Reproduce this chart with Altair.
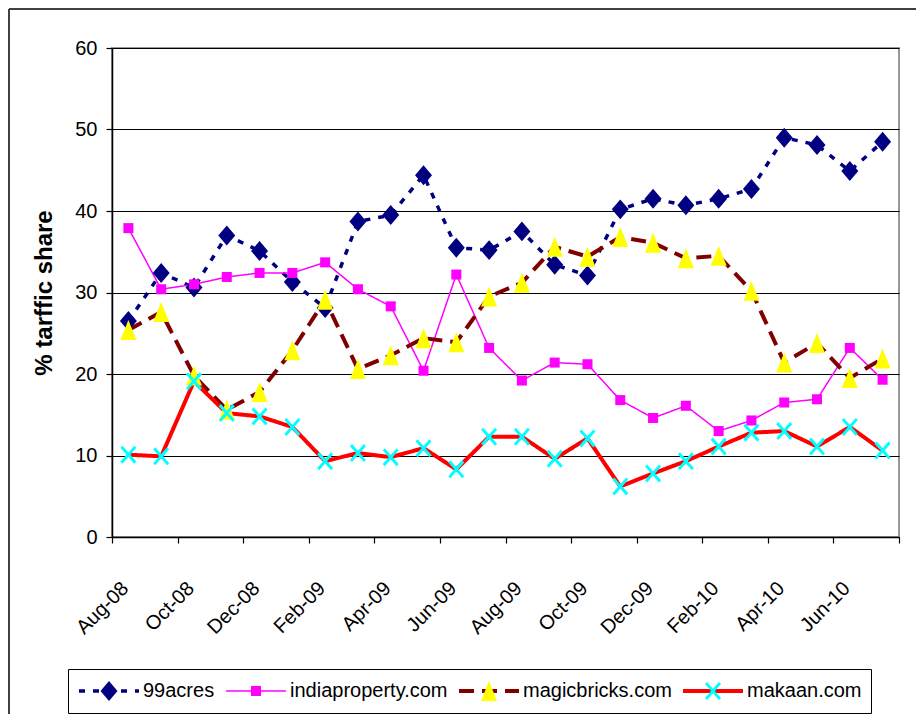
import altair as alt
import pandas as pd

FONT = "Liberation Sans, Arial, sans-serif"

months = ["Aug-08", "Sep-08", "Oct-08", "Nov-08", "Dec-08", "Jan-09", "Feb-09", "Mar-09",
          "Apr-09", "May-09", "Jun-09", "Jul-09", "Aug-09", "Sep-09", "Oct-09", "Nov-09",
          "Dec-09", "Jan-10", "Feb-10", "Mar-10", "Apr-10", "May-10", "Jun-10", "Jul-10"]
series = ["99acres", "indiaproperty.com", "magicbricks.com", "makaan.com"]

acres99 = [26.5, 32.4, 30.6, 37.0, 35.1, 31.3, 28.1, 38.7, 39.5, 44.4, 35.5, 35.2,
           37.5, 33.4, 32.1, 40.2, 41.5, 40.7, 41.5, 42.7, 49.0, 48.1, 44.9, 48.5]
indiaproperty = [37.9, 30.4, 31.0, 31.9, 32.4, 32.4, 33.7, 30.4, 28.3, 20.4, 32.2, 23.2,
                 19.2, 21.4, 21.2, 16.8, 14.6, 16.1, 13.0, 14.3, 16.5, 16.9, 23.2, 19.3]
magicbricks = [25.4, 27.6, 19.8, 15.6, 17.8, 22.9, 29.1, 20.6, 22.3, 24.4, 23.9, 29.5,
               31.2, 35.6, 34.4, 36.8, 36.1, 34.2, 34.5, 30.2, 21.4, 23.8, 19.5, 21.9]
makaan = [10.1, 9.9, 19.1, 15.2, 14.8, 13.5, 9.3, 10.3, 9.8, 10.9, 8.3, 12.3,
          12.3, 9.6, 12.1, 6.2, 7.8, 9.3, 11.1, 12.8, 13.0, 11.1, 13.5, 10.6]

y_ticks = [0, 10, 20, 30, 40, 50, 60]

# styles
line_colors = ["#000080", "#FF00FF", "#800000", "#FF0000"]
marker_colors = ["#000080", "#FF00FF", "#FFFF00", "#00FFFF"]
line_dashes = [[6, 8], [1, 0], [15, 8], [1, 0]]
line_widths = [3.5, 1.5, 4, 4]
# marker outlines in units where 1 = 30 px (symbol size 3600); leading moveTo's only set bounds
marker_paths = [
    "M-1,0M1,0M0,-0.333L0.283,0L0,0.333L-0.283,0Z",
    "M-1,0M1,0M-0.167,-0.167L0.167,-0.167L0.167,0.167L-0.167,0.167Z",
    "M-1,0M1,0M0,-0.333L0.267,0.333L-0.267,0.333Z",
    "M-1,0M1,0M-0.267,-0.23L-0.197,-0.3L0,-0.075L0.197,-0.3L0.267,-0.23L0.066,0"
    "L0.267,0.23L0.197,0.3L0,0.075L-0.197,0.3L-0.267,0.23L-0.066,0Z",
]

rows = []
for s, vals in zip(series, [acres99, indiaproperty, magicbricks, makaan]):
    for i, (m, v) in enumerate(zip(months, vals)):
        rows.append({"month": m, "idx": i, "series": s, "marker_key": s + " ", "share": v})
df = pd.DataFrame(rows)
marker_keys = [s + " " for s in series]

tick_vals = [i - 0.5 for i in range(0, len(months) + 1, 2)]
label_js = "[" + ",".join("'%s'" % m for m in months) + "]"

x_enc = alt.X(
    "idx:Q",
    scale=alt.Scale(domain=[-0.5, len(months) - 0.5], nice=False, zero=False),
    axis=alt.Axis(
        values=tick_vals,
        labelExpr=f"(datum.value + 0.5) < {len(months)} ? {label_js}[datum.value + 0.5] : ''",
        labelAngle=-45, labelAlign="right", labelBaseline="middle",
        labelOffset=13, labelPadding=42, labelFlush=False, labelOverlap=False,
        labelBound=False, grid=False, tickSize=6, title=None,
        domainColor="black", domainWidth=1.5, tickColor="black", tickWidth=1.2,
        labelFont=FONT, labelFontSize=20, labelColor="black",
    ),
)
y_enc = alt.Y(
    "share:Q",
    scale=alt.Scale(domain=[0, 60], nice=False, zero=True),
    axis=alt.Axis(
        values=y_ticks, title="% tarffic share", titleFont=FONT, titleFontSize=24,
        titleFontWeight="bold", titleColor="black", titlePadding=18,
        labelFont=FONT, labelFontSize=20, labelColor="black", labelPadding=9,
        tickSize=6, tickColor="black", tickWidth=1.2,
        grid=True, gridColor="black", gridWidth=1,
        domainColor="black", domainWidth=1.5,
    ),
)

common_legend = dict(
    orient="none", legendX=-44, legendY=621, direction="horizontal", columns=4,
    title=None, symbolSize=3600, labelFont=FONT, labelFontSize=20, labelColor="black",
    labelOffset=2, columnPadding=9, padding=9, clipHeight=26, labelLimit=0,
    symbolStrokeWidth=4,
)
legend_lines = alt.Legend(symbolType="M-1,0L1,0", strokeColor="black", fillColor="white",
                          **common_legend)
legend_markers = alt.Legend(labelOpacity=0, labelExpr="trim(datum.label)",
                            symbolStrokeColor="transparent", **common_legend)

base = alt.Chart(df)

lines = base.mark_line().encode(
    x=x_enc, y=y_enc,
    stroke=alt.Stroke("series:N", scale=alt.Scale(domain=series, range=line_colors),
                      legend=legend_lines),
    strokeDash=alt.StrokeDash("series:N",
                              scale=alt.Scale(type="ordinal", domain=series, range=line_dashes),
                              legend=legend_lines),
    strokeWidth=alt.StrokeWidth("series:N",
                                scale=alt.Scale(type="ordinal", domain=series, range=line_widths),
                                legend=legend_lines),
    order="idx:Q",
)

points = base.mark_point(filled=True, size=3600, opacity=1).encode(
    x=x_enc, y=y_enc,
    fill=alt.Fill("marker_key:N", scale=alt.Scale(domain=marker_keys, range=marker_colors),
                  legend=legend_markers),
    shape=alt.Shape("marker_key:N", scale=alt.Scale(domain=marker_keys, range=marker_paths),
                    legend=legend_markers),
)

frame_df = pd.DataFrame({"k": [0]})
frame_left = alt.Chart(frame_df).mark_rule(color="#404040", strokeWidth=2).encode(
    x=alt.value(-103), y=alt.value(-39), y2=alt.value(720))
frame_top = alt.Chart(frame_df).mark_rule(color="#404040", strokeWidth=2).encode(
    y=alt.value(-39), x=alt.value(-103), x2=alt.value(830))

chart = alt.layer(frame_left, frame_top, lines, points).properties(
    width=787, height=489,
    padding={"left": 104, "top": 40, "right": 17, "bottom": 177},
    autosize=alt.AutoSizeParams(type="none"),
    background="white",
).configure_view(stroke="#999999", strokeWidth=2)

chart.save("out.html", embed_options={"renderer": "svg", "actions": False})
